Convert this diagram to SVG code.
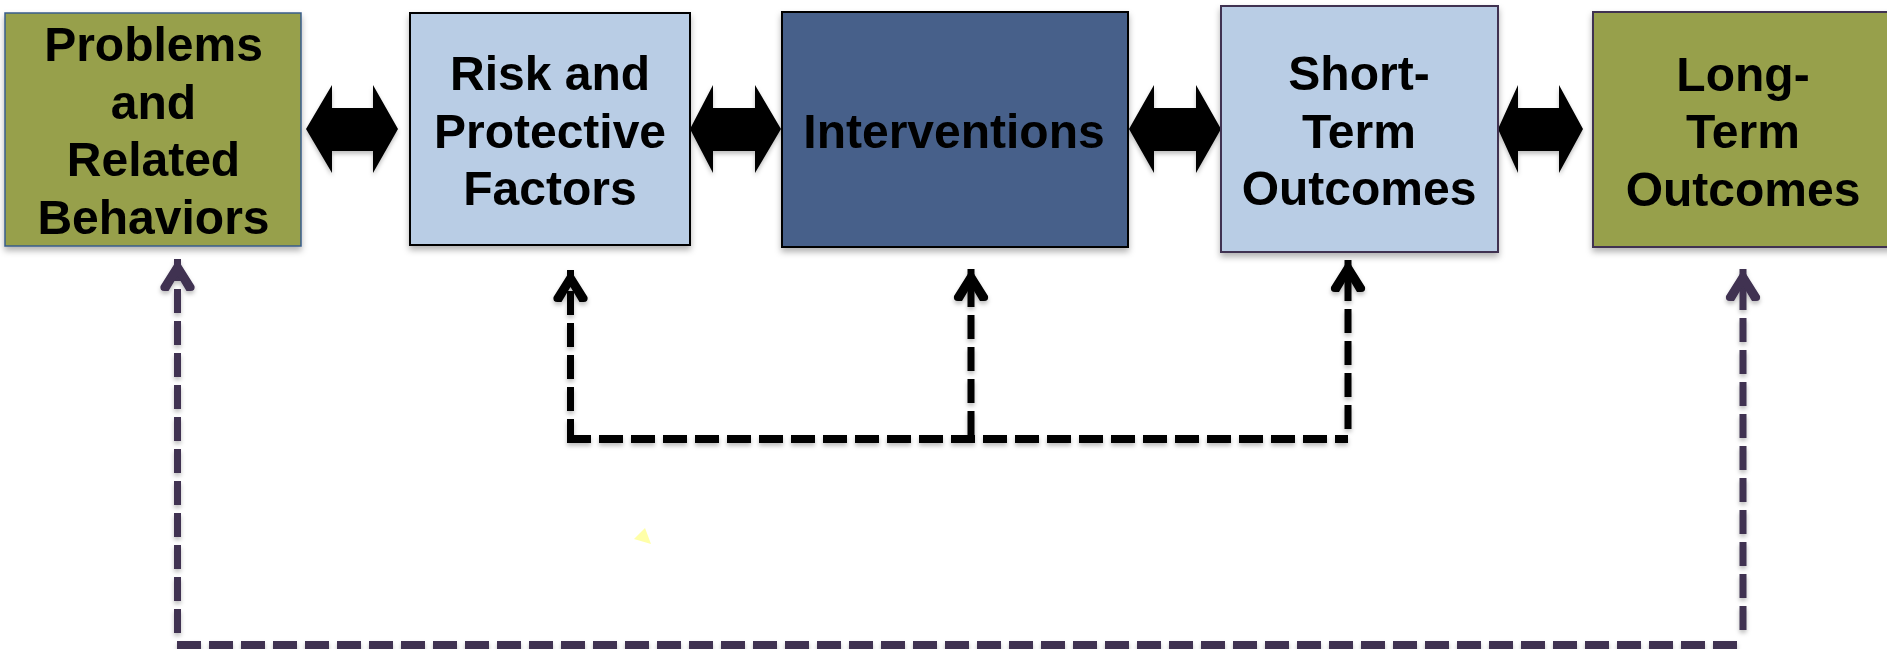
<svg xmlns="http://www.w3.org/2000/svg" width="1887" height="649" viewBox="0 0 1887 649">
<style>
.lbl{font-family:"Liberation Sans",Arial,Helvetica,sans-serif;font-weight:bold;font-size:48px;fill:#000;text-anchor:middle}
.olive{fill:#97A04C}
.light{fill:#B9CDE5}
.dark{fill:#47618A}
.dbl{fill:#000}
.blk{fill:none;stroke:#000;stroke-dasharray:24 8}
.pur{fill:none;stroke:#3F3151;stroke-dasharray:24 8}
</style>
<defs>
<filter id="sh" x="-10%" y="-10%" width="120%" height="130%">
<feDropShadow dx="0" dy="4" stdDeviation="3" flood-color="#000" flood-opacity="0.3"/>
</filter>
<filter id="shl" x="-5%" y="-5%" width="110%" height="120%">
<feDropShadow dx="0" dy="3" stdDeviation="2" flood-color="#000" flood-opacity="0.25"/>
</filter>
<marker id="hb" markerUnits="userSpaceOnUse" viewBox="-34 -20 36 40" markerWidth="36" markerHeight="40" refX="0" refY="0" orient="auto" overflow="visible">
<path d="M0,0 L-27,17 Q-32,18 -32,13 L-32,9 L-17,0 L-32,-9 L-32,-13 Q-32,-18 -27,-17 Z" fill="#000"/>
</marker>
<marker id="hp" markerUnits="userSpaceOnUse" viewBox="-34 -20 36 40" markerWidth="36" markerHeight="40" refX="0" refY="0" orient="auto" overflow="visible">
<path d="M0,0 L-27,17 Q-32,18 -32,13 L-32,9 L-17,0 L-32,-9 L-32,-13 Q-32,-18 -27,-17 Z" fill="#3F3151"/>
</marker>
</defs>
<rect width="1887" height="649" fill="#fff"/>

<g id="connectors" filter="url(#shl)">
<polygon class="dbl" points="306,129 332,85 332,108 373,108 373,85 398,129 373,173 373,151 332,151 332,173"/>
<polygon class="dbl" points="690,129 713,85 713,108 755,108 755,85 781,129 755,173 755,151 713,151 713,173"/>
<polygon class="dbl" points="1129,129 1154,85 1154,108 1196,108 1196,85 1221,129 1196,173 1196,151 1154,151 1154,173"/>
<polygon class="dbl" points="1498,129 1518,85 1518,108 1559,108 1559,85 1583,129 1559,173 1559,151 1518,151 1518,173"/>
<path class="blk" stroke-width="7" d="M570.5,443 V270" marker-end="url(#hb)"/>
<path class="blk" stroke-width="7" d="M971,435 V269" marker-end="url(#hb)"/>
<path class="blk" stroke-width="7" d="M1348,429 V260" marker-end="url(#hb)"/>
<path class="blk" stroke-width="8" d="M567,439 H1348"/>
<path class="pur" stroke-width="7" d="M177.5,633 V259" marker-end="url(#hp)"/>
<path class="pur" stroke-width="7" d="M1743,630 V269" marker-end="url(#hp)"/>
<path class="pur" stroke-width="8" d="M177,645 H1737"/>
</g>

<g id="n1" filter="url(#sh)">
<rect class="olive" x="5" y="13" width="296" height="233" stroke="#385D8A" stroke-width="1.5"/>
<text class="lbl" x="153.5" y="61">Problems</text>
<text class="lbl" x="153.5" y="118.5">and</text>
<text class="lbl" x="153.5" y="176">Related</text>
<text class="lbl" x="153.5" y="233.5">Behaviors</text>
</g>

<g id="n2" filter="url(#sh)">
<rect class="light" x="410" y="13" width="280" height="232" stroke="#000" stroke-width="2"/>
<text class="lbl" x="550" y="90">Risk and</text>
<text class="lbl" x="550" y="147.5">Protective</text>
<text class="lbl" x="550" y="205">Factors</text>
</g>

<g id="n3" filter="url(#sh)">
<rect class="dark" x="782" y="12" width="346" height="235" stroke="#000" stroke-width="2"/>
<text class="lbl" x="954" y="147.7">Interventions</text>
</g>

<g id="n4" filter="url(#sh)">
<rect class="light" x="1221" y="6" width="277" height="246" stroke="#3F3151" stroke-width="2"/>
<text class="lbl" x="1359" y="90">Short-</text>
<text class="lbl" x="1359" y="147.5">Term</text>
<text class="lbl" x="1359" y="205">Outcomes</text>
</g>

<g id="n5" filter="url(#sh)">
<rect class="olive" x="1593" y="12" width="300" height="235" stroke="#3F3151" stroke-width="2"/>
<text class="lbl" x="1743" y="90.5">Long-</text>
<text class="lbl" x="1743" y="148">Term</text>
<text class="lbl" x="1743" y="205.5">Outcomes</text>
</g>

<polygon points="634,539 645,528 651,544" fill="#FFFF99" opacity="0.85"/>
</svg>
